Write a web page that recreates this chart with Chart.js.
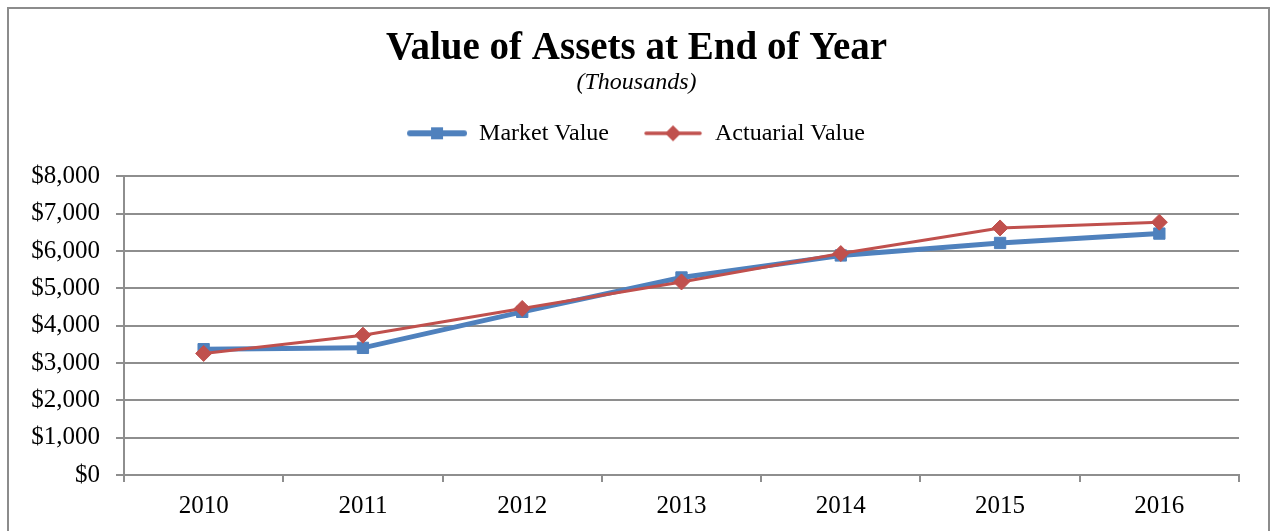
<!DOCTYPE html>
<html>
<head>
<meta charset="utf-8">
<script src="https://cdn.jsdelivr.net/npm/chart.js@4"></script>
<style>
  html, body { margin: 0; padding: 0; background: #fff; overflow: hidden; }
  #frame {
    position: absolute; left: 7px; top: 7px; width: 1263px; height: 560px;
    border: 2px solid #8c8c8c; box-sizing: border-box;
  }
  #chart { position: absolute; left: 0; top: 0; }
</style>
</head>
<body>
<div id="frame"></div>
<canvas id="chart" width="1272" height="531"></canvas>
<script>
const years = ["2010", "2011", "2012", "2013", "2014", "2015", "2016"]
const marketValue = [3370, 3405, 4370, 5290, 5880, 6215, 6466]
const actuarialValue = [3255, 3745, 4460, 5170, 5930, 6617, 6770]
const yTicks = [0, 1000, 2000, 3000, 4000, 5000, 6000, 7000, 8000]

const blue = "#4F81BD"
const red = "#C0504D"
const gridGray = "#8e8e8e"
const serif = "'Liberation Serif', 'Times New Roman', serif"

Chart.defaults.color = "#000"
Chart.defaults.font.family = serif

// legend swatch: a short line with the marker in the middle (blank lead-in keeps items apart)
function swatch(color, lineWidth, shape) {
  const c = document.createElement("canvas")
  c.width = 69
  c.height = 18
  const ctx = c.getContext("2d")
  ctx.strokeStyle = color
  ctx.fillStyle = color
  ctx.lineWidth = lineWidth
  ctx.lineCap = "round"
  ctx.beginPath()
  ctx.moveTo(12, 9)
  ctx.lineTo(66, 9)
  ctx.stroke()
  ctx.beginPath()
  if (shape === "rect") {
    ctx.rect(33, 3, 12, 12)
  } else {
    ctx.moveTo(39, 1); ctx.lineTo(47, 9); ctx.lineTo(39, 17); ctx.lineTo(31, 9)
    ctx.closePath()
  }
  ctx.fill()
  return c
}
const swatches = [swatch(blue, 6, "rect"), swatch(red, 3.5, "diamond")]

// extra room under the legend, and header boxes centred on the whole frame
const headerTweaks = {
  id: "headerTweaks",
  beforeInit(chart) {
    const fit = chart.legend.fit
    chart.legend.fit = function () {
      fit.bind(chart.legend)()
      this.height += 21
    }
  },
  afterLayout(chart) {
    chart.legend.left += 12
    chart.legend.right += 12
    for (const box of [chart.titleBlock, chart.boxes.find(b => b !== chart.titleBlock && b.options && b.options.text === "(Thousands)")]) {
      if (!box) continue
      box.left += 17
      box.right += 17
    }
  }
}

new Chart(document.getElementById("chart"), {
  type: "line",
  data: {
    labels: years,
    datasets: [{
      label: "Market Value",
      data: marketValue,
      borderColor: blue,
      backgroundColor: blue,
      borderWidth: 5,
      pointStyle: "rect",
      pointRadius: 8,
      pointBorderWidth: 1,
      order: 2
    }, {
      label: "Actuarial Value",
      data: actuarialValue,
      borderColor: red,
      backgroundColor: red,
      borderWidth: 3,
      pointStyle: "rectRot",
      pointRadius: 8,
      pointBorderWidth: 1,
      order: 1
    }]
  },
  options: {
    responsive: false,
    animation: false,
    devicePixelRatio: 1,
    layout: { padding: { left: 0, right: 33, top: 0, bottom: 1 } },
    plugins: {
      title: {
        display: true,
        text: "Value of Assets at End of Year",
        font: { size: 39, weight: "bold", lineHeight: 1.1 },
        padding: { top: 27, bottom: 0 }
      },
      subtitle: {
        display: true,
        text: "(Thousands)",
        font: { size: 24, style: "italic", lineHeight: 1.1 },
        padding: { top: 0, bottom: 0 }
      },
      legend: {
        labels: {
          usePointStyle: true,
          pointStyleWidth: 69,
          padding: 25,
          font: { size: 24 },
          generateLabels(chart) {
            const items = Chart.defaults.plugins.legend.labels.generateLabels(chart)
            items.sort((a, b) => a.datasetIndex - b.datasetIndex)
            items.forEach(it => { it.pointStyle = swatches[it.datasetIndex] })
            return items
          }
        }
      },
      tooltip: { enabled: false }
    },
    scales: {
      x: {
        offset: true,
        grid: { offset: true, drawOnChartArea: false, color: gridGray, lineWidth: 2, tickLength: 7 },
        border: { color: gridGray, width: 2 },
        ticks: { font: { size: 25 }, padding: 9 }
      },
      y: {
        min: 0,
        max: 8000,
        afterFit(scale) { scale.width = 124 },
        afterBuildTicks(scale) { scale.ticks = yTicks.map(v => ({ value: v })) },
        grid: { color: gridGray, lineWidth: 2, tickLength: 8 },
        border: { color: gridGray, width: 2 },
        ticks: {
          font: { size: 25 },
          padding: 16,
          callback: v => "$" + v.toLocaleString("en-US")
        }
      }
    }
  },
  plugins: [headerTweaks]
})
</script>
</body>
</html>
